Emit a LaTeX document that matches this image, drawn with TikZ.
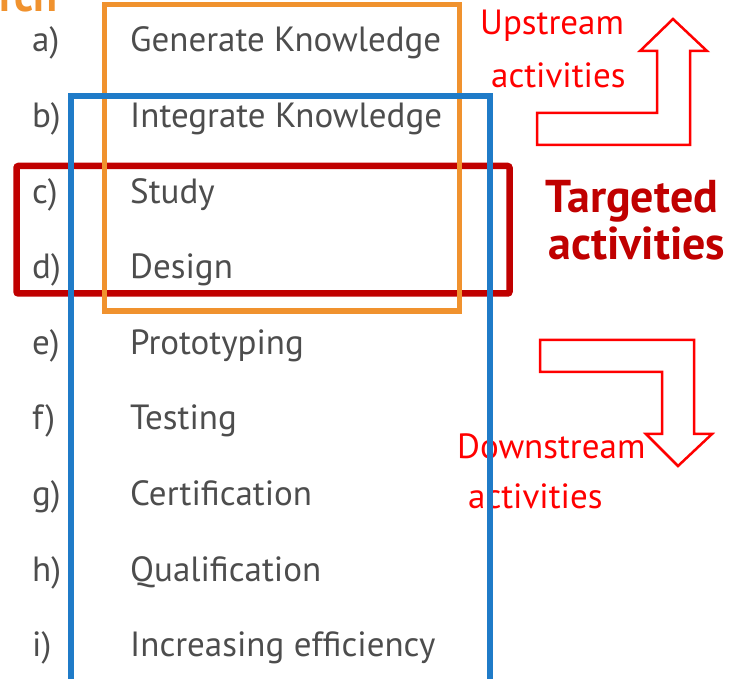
\documentclass[tikz,border=0pt]{standalone}
\usepackage{fontspec}
\setmainfont{PT Sans}
\usepackage{xcolor}
\usetikzlibrary{calc}
\definecolor{itemgray}{HTML}{4D4D4D}
\definecolor{boxorange}{HTML}{F0922E}
\definecolor{boxblue}{HTML}{1F7BC8}
\definecolor{darkred}{HTML}{C00000}
\definecolor{brightred}{HTML}{FF0000}

\begin{document}
\begin{tikzpicture}[x=1pt,y=-1pt]
% Page size, same as the slide cut-out.
\useasboundingbox (0,0) rectangle (748,679);
\clip (0,0) rectangle (748,679);

% These determine how the list looks.
\tikzstyle{letter}=[anchor=base west,inner sep=0pt,text=itemgray,font=\fontsize{35}{41}\selectfont]
\tikzstyle{item}=[anchor=base west,inner sep=0pt,text=itemgray,font=\fontsize{35}{41}\selectfont]
\tikzstyle{redtext}=[anchor=base west,inner sep=0pt,text=brightred,font=\fontsize{35}{41}\selectfont]
\tikzstyle{bigtext}=[anchor=base,inner sep=0pt,text=darkred,font=\bfseries\fontsize{46}{52}\selectfont]
\tikzstyle{bendarrow}=[draw=brightred,line width=2.5pt,line join=miter]

% This draws the cut-off heading.
\node[anchor=base east,inner sep=0pt,text=boxorange,font=\bfseries\fontsize{44}{50}\selectfont] (head) at (58,12) {Research};

% This draws the list.
\node[letter] (la) at (32,52) {a)};
\node[item] (ta) at (130,52) {Generate Knowledge};
\node[letter] (lb) at (32,127.6) {b)};
\node[item] (tb) at (130,127.6) {Integrate Knowledge};
\node[letter] (lc) at (32,203.2) {c)};
\node[item] (tc) at (130,203.2) {Study};
\node[letter] (ld) at (32,278.8) {d)};
\node[item] (td) at (130,278.8) {Design};
\node[letter] (le) at (32,354.4) {e)};
\node[item] (te) at (130,354.4) {Prototyping};
\node[letter] (lf) at (32,430) {f)};
\node[item] (tf) at (130,430) {Testing};
\node[letter] (lg) at (32,505.6) {g)};
\node[item] (tg) at (130,505.6) {Certification};
\node[letter] (lh) at (32,581.2) {h)};
\node[item] (th) at (130,581.2) {Qualification};
\node[letter] (li) at (32,656.8) {i)};
\node[item] (ti) at (130,656.8) {Increasing efficiency};

% This draws the side labels.
\node[redtext] (up1) at (480,35) {Upstream};
\node[redtext] (up2) at (491,88) {activities};
\node[redtext] (down1) at (457,458) {Downstream};
\node[redtext] (down2) at (468,508) {activities};
\node[bigtext] (tgt1) at (632,213) {Targeted};
\node[bigtext] (tgt2) at (637,260) {activities};

% This draws the boxes.
\draw[darkred,line width=6.5pt,rounded corners=2pt] (16.5,166) rectangle (509.5,293.5);
\draw[boxorange,line width=5.5pt] (104.5,4.5) rectangle (459.5,311);
\draw[boxblue,line width=5.5pt] (71,700) -- (71,96) -- (490,96) -- (490,700);

% This draws the upstream arrow.
\draw[bendarrow] (537,113) -- (657,113) -- (657,51) -- (640,51) -- (673,19)
  -- (707,51) -- (690,51) -- (690,145) -- (537,145) -- cycle;

% This draws the downstream arrow.
\draw[bendarrow] (540,340) -- (694,340) -- (694,434) -- (712,434) -- (678,466)
  -- (646,434) -- (662,434) -- (662,372) -- (540,372) -- cycle;
\end{tikzpicture}
\end{document}
